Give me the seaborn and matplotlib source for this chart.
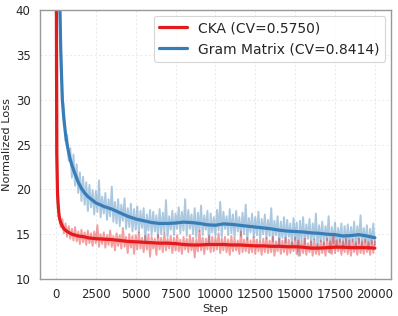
import numpy as np
import pandas as pd
import seaborn as sns
from matplotlib import pyplot as plt

sns.set_theme(context='paper', style='whitegrid',
              rc={'grid.linestyle': (0, (2.5, 2.5)), 'grid.color': '0.9', 'grid.linewidth': 0.6,
                  'axes.edgecolor': '0.6', 'axes.linewidth': 1.0})

#raw loss, logged every 100 steps
raw_steps = list(range(0, 20001, 100))
cka_raw = [82.0, 18.6, 17.4, 15.8, 16.7, 15.1, 16.2, 14.7, 15.9, 14.5,
	15.6, 14.3, 15.8, 14.2, 15.3, 13.9, 15.5, 14.1, 15.2, 13.8,
	15.4, 14.0, 15.1, 13.7, 15.3, 14.0, 16.0, 13.6, 15.0, 13.9,
	15.2, 13.5, 14.9, 13.8, 15.4, 13.6, 14.8, 13.2, 15.1, 13.7,
	14.9, 13.4, 15.7, 13.6, 14.7, 12.9, 15.0, 13.5, 14.8, 12.8,
	14.9, 13.3, 15.2, 13.4, 14.6, 13.0, 14.8, 13.3, 15.0, 12.5,
	14.7, 13.4, 14.5, 12.7, 14.9, 13.3, 14.6, 13.0, 15.1, 13.2,
	14.5, 13.4, 14.8, 12.9, 14.6, 13.2, 14.9, 13.1, 14.4, 12.8,
	14.7, 13.3, 14.5, 13.0, 14.9, 13.2, 14.6, 12.4, 14.4, 13.1,
	15.4, 13.2, 14.6, 12.8, 14.5, 13.3, 14.8, 13.0, 14.7, 13.1,
	14.6, 13.3, 15.1, 12.9, 14.5, 13.2, 14.7, 13.0, 14.4, 12.7,
	14.8, 13.1, 14.5, 13.2, 14.3, 12.8, 15.3, 13.0, 14.4, 13.1,
	14.6, 12.9, 14.3, 13.0, 14.7, 12.8, 14.4, 13.1, 14.2, 12.7,
	14.5, 13.0, 14.6, 12.9, 14.3, 13.0, 14.7, 12.6, 14.2, 13.1,
	14.5, 12.8, 14.3, 13.0, 14.6, 12.7, 14.4, 12.9, 14.1, 13.1,
	14.6, 12.8, 14.3, 12.6, 14.2, 12.9, 14.5, 12.7, 14.0, 13.0,
	14.2, 12.6, 14.4, 12.8, 13.9, 12.7, 14.3, 12.9, 14.1, 12.6,
	14.5, 13.0, 14.2, 12.8, 15.0, 12.9, 14.3, 13.1, 14.4, 12.7,
	14.2, 13.0, 14.5, 12.8, 14.3, 12.6, 14.4, 13.0, 14.1, 12.7,
	14.5, 12.9, 14.2, 12.8, 14.4, 13.0, 14.1, 12.7, 14.3, 12.9,
	14.2]
gram_raw = [95.0, 68.0, 47.5, 36.8, 30.6, 28.9, 25.4, 26.1, 23.2, 24.6,
	21.3, 23.9, 20.4, 22.8, 19.6, 21.9, 18.7, 21.4, 18.3, 20.8,
	17.6, 20.5, 18.0, 19.9, 17.2, 19.8, 17.5, 21.0, 16.9, 19.2,
	17.3, 19.6, 16.6, 18.9, 17.0, 20.3, 16.4, 18.6, 16.2, 18.9,
	15.9, 18.3, 16.5, 19.0, 15.6, 17.9, 15.8, 18.4, 15.3, 17.8,
	15.5, 18.1, 15.2, 17.6, 15.7, 17.9, 14.2, 17.2, 15.4, 17.7,
	14.9, 17.5, 15.3, 17.1, 14.6, 17.8, 15.0, 17.4, 15.2, 18.8,
	14.7, 17.0, 15.5, 17.6, 14.9, 17.3, 15.6, 18.0, 15.1, 17.5,
	15.4, 18.9, 14.8, 17.7, 15.6, 17.2, 15.0, 17.9, 14.6, 17.4,
	15.3, 18.2, 14.9, 17.1, 15.5, 17.6, 14.0, 17.3, 15.2, 16.9,
	14.8, 17.7, 15.4, 18.6, 14.7, 17.5, 15.6, 17.0, 14.9, 17.8,
	15.1, 17.2, 14.6, 17.6, 15.3, 16.9, 14.8, 17.4, 15.0, 18.3,
	14.4, 16.8, 15.2, 17.3, 14.7, 16.9, 14.9, 17.5, 14.3, 16.7,
	15.0, 17.2, 14.5, 16.6, 14.8, 17.9, 14.2, 16.5, 14.9, 17.0,
	13.9, 16.4, 14.6, 16.9, 14.1, 16.6, 14.7, 16.2, 13.6, 16.8,
	14.4, 16.3, 12.6, 16.5, 14.3, 16.9, 13.9, 16.1, 14.5, 16.7,
	13.7, 16.2, 14.4, 17.3, 13.5, 16.0, 14.2, 16.4, 13.8, 15.9,
	14.3, 17.0, 12.9, 15.8, 14.0, 16.3, 13.6, 15.7, 14.1, 16.2,
	13.4, 15.9, 13.9, 16.1, 13.7, 15.8, 14.2, 16.4, 13.5, 15.9,
	14.0, 17.1, 13.6, 15.7, 14.1, 16.0, 13.3, 15.6, 13.9, 16.2,
	13.8]

#smoothed curves
smooth_steps = [0, 50, 100, 150, 200, 250, 300, 400, 500, 600, 700, 800, 900, 1000,
	1200, 1400, 1600, 1800, 2000, 2500, 3000, 3500, 4000, 4500, 5000, 5500,
	6000, 6500, 7000, 7500, 8000, 8500, 9000, 9500, 10000, 10500, 11000,
	11500, 12000, 12500, 13000, 13500, 14000, 14500, 15000, 15500, 16000,
	16500, 17000, 17500, 18000, 18500, 19000, 19500, 20000]
cka_smooth = [60.0, 24.0, 19.5, 18.0, 17.0, 16.6, 16.3, 15.9, 15.6, 15.45, 15.3, 15.2, 15.1, 15.0,
	14.9, 14.8, 14.75, 14.7, 14.6, 14.5, 14.45, 14.4, 14.3, 14.2, 14.15, 14.1,
	14.05, 14.0, 14.0, 13.95, 13.85, 13.8, 13.8, 13.85, 13.85, 13.85, 13.8,
	13.8, 13.75, 13.7, 13.7, 13.65, 13.65, 13.6, 13.6, 13.55, 13.45,
	13.45, 13.5, 13.55, 13.55, 13.5, 13.5, 13.5, 13.45]
gram_smooth = [120.0, 95.0, 75.0, 58.0, 47.0, 40.0, 35.5, 30.0, 27.8, 26.2, 25.0, 24.1, 23.3, 22.7,
	21.7, 20.8, 20.1, 19.6, 19.2, 18.5, 18.1, 17.8, 17.4, 17.0, 16.7, 16.5,
	16.3, 16.2, 16.2, 16.25, 16.35, 16.3, 16.2, 16.05, 16.0, 16.15, 16.1,
	16.0, 15.9, 15.8, 15.7, 15.6, 15.45, 15.35, 15.3, 15.25, 15.15,
	15.1, 15.0, 14.95, 14.8, 14.85, 14.95, 14.8, 14.6]

red = '#e41a1c'
blue = '#377eb8'

fig, ax = plt.subplots(figsize=(3.98, 3.16), dpi=100)
fig.subplots_adjust(left=0.1005, right=0.982, bottom=0.117, top=0.968)

sns.lineplot(x=raw_steps, y=gram_raw, color=blue, alpha=0.42, linewidth=1.4, ax=ax)
sns.lineplot(x=raw_steps, y=cka_raw, color=red, alpha=0.42, linewidth=1.4, ax=ax)
sns.lineplot(x=smooth_steps, y=cka_smooth, color=red, linewidth=2.3, ax=ax, label='CKA (CV=0.5750)')
sns.lineplot(x=smooth_steps, y=gram_smooth, color=blue, linewidth=2.3, ax=ax, label='Gram Matrix (CV=0.8414)')

ax.set_xlim(-1000, 21000)
ax.set_ylim(10, 40)
ax.set_xticks([0, 2500, 5000, 7500, 10000, 12500, 15000, 17500, 20000])
ax.set_yticks([10, 15, 20, 25, 30, 35, 40])
ax.tick_params(labelsize=8.5, pad=2)
ax.set_xlabel('Step', fontsize=8.2, labelpad=2)
ax.set_ylabel('Normalized Loss', fontsize=8.2, labelpad=3)
ax.legend(loc='upper right', fontsize=10, frameon=True, borderaxespad=0.4, handlelength=2.0)

plt.savefig('out.png', dpi=100)
